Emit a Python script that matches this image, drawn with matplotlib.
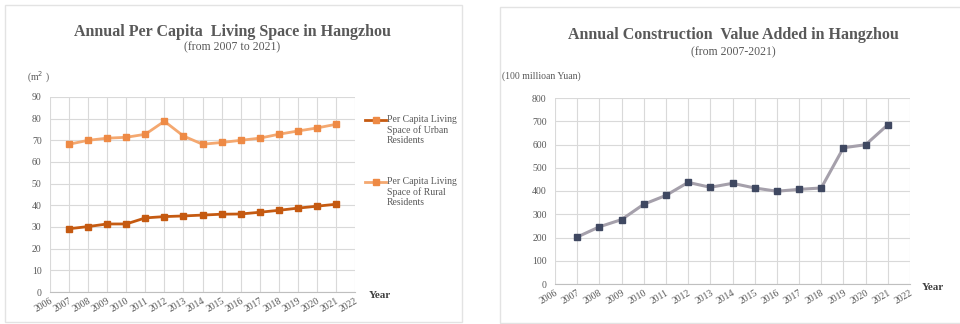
import numpy as np
import matplotlib
matplotlib.use('Agg')
import matplotlib.pyplot as plt
from matplotlib.patches import Rectangle
from matplotlib.lines import Line2D

plt.rcParams['font.family'] = ['Liberation Serif', 'DejaVu Serif']

# data
years = [2007, 2008, 2009, 2010, 2011, 2012, 2013, 2014, 2015, 2016, 2017, 2018, 2019, 2020, 2021]
urban_space = [29.2, 30.2, 31.4, 31.4, 34.2, 34.8, 35.1, 35.5, 35.9, 36.0, 36.8, 37.7, 38.7, 39.6, 40.5]
rural_space = [68.2, 70.0, 71.0, 71.4, 72.8, 78.8, 72.0, 68.2, 69.0, 70.0, 71.0, 72.8, 74.3, 75.7, 77.4]
construction = [202, 246, 277, 343, 381, 437, 416, 433, 413, 399, 407, 413, 586, 599, 685]

tick_years = list(range(2006, 2023))
urban_label = 'Per Capita Living\nSpace of Urban\nResidents'
rural_label = 'Per Capita Living\nSpace of Rural\nResidents'

W, H = 960, 324
fig = plt.figure(figsize=(W / 100, H / 100), dpi=100)

def px_axes(x0, y0, x1, y1):
    # pixel box (top-left origin) -> figure axes
    return fig.add_axes([x0 / W, 1 - y1 / H, (x1 - x0) / W, (y1 - y0) / H])

def panel_box(x0, y0, x1, y1):
    fig.patches.append(Rectangle((x0 / W, 1 - y1 / H), (x1 - x0) / W, (y1 - y0) / H,
                                 transform=fig.transFigure, fill=False,
                                 edgecolor='#e3e3e3', lw=1.0, zorder=0))

txt = '#595959'
grid = '#d9d9d9'

def style(ax, ymax, ystep):
    ax.set_xlim(2006, 2022)
    ax.set_ylim(0, ymax)
    ax.set_xticks(tick_years)
    ax.set_xticklabels([str(y) for y in tick_years], rotation=30, ha='right',
                       rotation_mode='anchor', fontsize=7, color=txt)
    ax.set_yticks(np.arange(0, ymax + 1, ystep))
    ax.tick_params(axis='y', labelsize=7, labelcolor=txt, length=0, pad=6)
    ax.tick_params(axis='x', length=0, pad=3)
    ax.grid(True, color=grid, lw=0.8)
    ax.set_axisbelow(True)
    for s in ['top', 'right', 'left']:
        ax.spines[s].set_visible(False)
    ax.spines['bottom'].set_color('#bfbfbf')

def legend_entry(x, y, color, mcolor, label):
    fig.lines.append(Line2D([x / W, (x + 21) / W], [1 - y / H, 1 - y / H],
                            transform=fig.transFigure, color=color, lw=2))
    fig.lines.append(Line2D([(x + 10.5) / W], [1 - y / H], transform=fig.transFigure,
                            marker='s', ms=4, color=mcolor, lw=0))
    fig.text((x + 22) / W, 1 - (y - 5) / H, label, ha='left', va='top', fontsize=7,
             color=txt, linespacing=1.15)

# left panel
panel_box(5, 5, 462, 322)
ax1 = px_axes(50, 97, 355, 292)
style(ax1, 90, 10)
urban_c, rural_c = '#c55a11', '#f4a870'
ax1.plot(years, urban_space, color=urban_c, lw=2, marker='s', ms=4,
         markerfacecolor=urban_c, markeredgecolor=urban_c)
ax1.plot(years, rural_space, color=rural_c, lw=2, marker='s', ms=4,
         markerfacecolor='#ee8a45', markeredgecolor='#ee8a45')
fig.text(232 / W, 1 - 32 / H, 'Annual Per Capita  Living Space in Hangzhou', ha='center',
         va='center', fontsize=11.5, fontweight='bold', color=txt)
fig.text(232 / W, 1 - 47 / H, '(from 2007 to 2021)', ha='center', va='center',
         fontsize=8.5, color=txt)
fig.text(27 / W, 1 - 77 / H, '(m$^2$ )', ha='left', va='center', fontsize=7, color=txt)
fig.text(369 / W, 1 - 295 / H, 'Year', ha='left', va='center', fontsize=8,
         fontweight='bold', color='#404040')
legend_entry(365, 120, urban_c, '#ee8a45', urban_label)
legend_entry(365, 182, rural_c, '#ee8a45', rural_label)

# right panel
panel_box(500, 7, 965, 323)
ax2 = px_axes(555, 98, 910, 284)
style(ax2, 800, 100)
ax2.plot(years, construction, color='#a5a0ab', lw=2.2, marker='s', ms=4.5,
         markerfacecolor='#3f4861', markeredgecolor='#3f4861')
fig.text(733 / W, 1 - 35 / H, 'Annual Construction  Value Added in Hangzhou', ha='center',
         va='center', fontsize=11.5, fontweight='bold', color=txt)
fig.text(733 / W, 1 - 52 / H, '(from 2007-2021)', ha='center', va='center',
         fontsize=8.5, color=txt)
fig.text(502 / W, 1 - 76 / H, '(100 millioan Yuan)', ha='left', va='center',
         fontsize=7, color=txt)
fig.text(922 / W, 1 - 288 / H, 'Year', ha='left', va='center', fontsize=8,
         fontweight='bold', color='#404040')

fig.savefig('out.png', dpi=100, facecolor='white')
